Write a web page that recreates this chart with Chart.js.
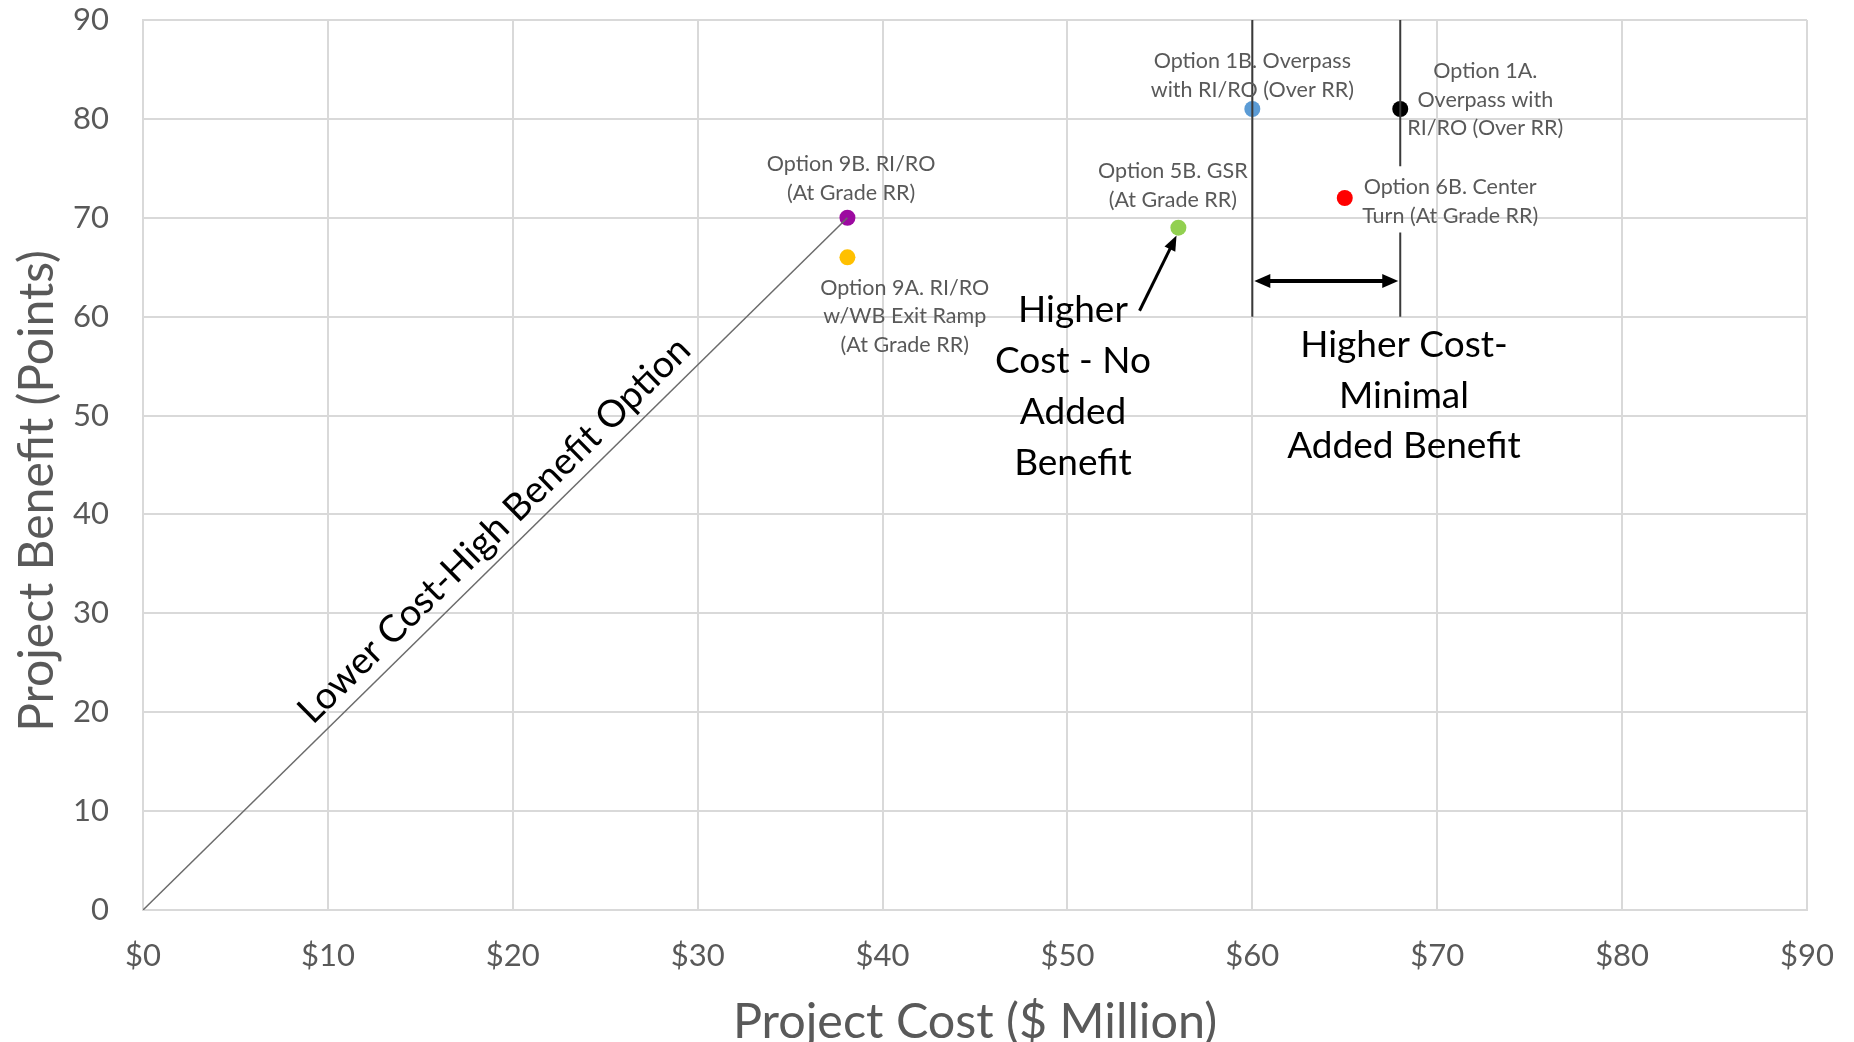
<!DOCTYPE html>
<html>
<head>
<meta charset="utf-8">
<script src="https://cdn.jsdelivr.net/npm/chart.js@4.4.0/dist/chart.umd.min.js"></script>
<style>
    html, body { margin: 0; padding: 0; background: #ffffff; }
</style>
</head>
<body>
<canvas id="costBenefitChart" width="1854" height="1042"></canvas>
<script>
// Datos
const optionLabels = [
    ['Option 9B. RI/RO', '(At Grade RR)'],
    ['Option 9A. RI/RO', 'w/WB Exit Ramp', '(At Grade RR)'],
    ['Option 5B. GSR', '(At Grade RR)'],
    ['Option 1B. Overpass', 'with RI/RO (Over RR)'],
    ['Option 1A.', 'Overpass with', 'RI/RO (Over RR)'],
    ['Option 6B. Center', 'Turn (At Grade RR)']
];
const projectCost = [38.1, 38.1, 56, 60, 68, 65];
const projectBenefit = [70, 66, 69, 81, 81, 72];
const pointColors = ['#9c0aa0', '#ffc000', '#92d050', '#5b9bd5', '#000000', '#ff0000'];
const costTicks = [0, 10, 20, 30, 40, 50, 60, 70, 80, 90];
const benefitTicks = [0, 10, 20, 30, 40, 50, 60, 70, 80, 90];

// Lineas de referencia (en unidades del grafico)
const thresholdLines = [
    [{ x: 60, y: 90 }, { x: 60, y: 60 }],
    [{ x: 68, y: 90 }, { x: 68, y: 75.2 }],
    [{ x: 68, y: 68.5 }, { x: 68, y: 60 }]
];
const diagonalLine = [{ x: 0, y: 0 }, { x: projectCost[0], y: projectBenefit[0] }];

// Posicion de las etiquetas (centro de la primera linea, en unidades)
const labelAnchors = [
    { x: 38.3, y: 75.4 },
    { x: 41.2, y: 62.9 },
    { x: 55.7, y: 74.7 },
    { x: 60.0, y: 85.8 },
    { x: 72.6, y: 84.8 },
    { x: 70.7, y: 73.1 }
];

const FONT = 'Lato, "Open Sans", sans-serif';
const GREY = '#595959';

function arrowHead(ctx, x, y, angle, len, half) {
    ctx.save();
    ctx.translate(x, y);
    ctx.rotate(angle);
    ctx.beginPath();
    ctx.moveTo(0, 0);
    ctx.lineTo(-len, -half);
    ctx.lineTo(-len, half);
    ctx.closePath();
    ctx.fill();
    ctx.restore();
}

function drawLines(ctx, lines, cx, cy, size, color, gap) {
    ctx.font = size + 'px ' + FONT;
    ctx.fillStyle = color;
    ctx.textAlign = 'center';
    ctx.textBaseline = 'middle';
    lines.forEach((t, i) => ctx.fillText(t, cx, cy + i * gap));
}

const annotationsPlugin = {
    id: 'annotations',
    afterDatasetsDraw(chart) {
        const ctx = chart.ctx;
        const xs = chart.scales.x;
        const ys = chart.scales.y;
        const px = v => xs.getPixelForValue(v);
        const py = v => ys.getPixelForValue(v);

        ctx.save();

        // Etiquetas de cada opcion
        optionLabels.forEach((lines, i) => {
            drawLines(ctx, lines, px(labelAnchors[i].x), py(labelAnchors[i].y), 21.5, GREY, 28.5);
        });

        // Texto diagonal
        const angle = Math.atan2(py(diagonalLine[1].y) - py(0), px(diagonalLine[1].x) - px(0));
        ctx.save();
        ctx.translate(px(19.0), py(38.4));
        ctx.rotate(angle);
        drawLines(ctx, ['Lower Cost-High Benefit Option'], 0, 0, 37.5, '#000000', 0);
        ctx.restore();

        // Textos grandes
        drawLines(ctx, ['Higher', 'Cost - No', 'Added', 'Benefit'], px(50.3), py(60.7), 37, '#000000', 51);
        drawLines(ctx, ['Higher Cost-', 'Minimal', 'Added Benefit'], px(68.2), py(57.1), 37, '#000000', 50.5);

        // Flecha doble
        ctx.strokeStyle = '#000000';
        ctx.fillStyle = '#000000';
        ctx.lineWidth = 4;
        const ay = py(63.6);
        const ax1 = px(60) + 2, ax2 = px(68) - 2;
        ctx.beginPath();
        ctx.moveTo(ax1 + 10, ay);
        ctx.lineTo(ax2 - 10, ay);
        ctx.stroke();
        arrowHead(ctx, ax2, ay, 0, 16, 7);
        arrowHead(ctx, ax1, ay, Math.PI, 16, 7);

        // Flecha hacia la opcion 5B
        const sx = px(53.9), sy = py(60.6);
        const ex = px(55.9), ey = py(68.2);
        const a = Math.atan2(ey - sy, ex - sx);
        ctx.lineWidth = 3;
        ctx.beginPath();
        ctx.moveTo(sx, sy);
        ctx.lineTo(ex - 12 * Math.cos(a), ey - 12 * Math.sin(a));
        ctx.stroke();
        arrowHead(ctx, ex, ey, a, 15, 6);

        // Titulo eje Y
        ctx.save();
        ctx.translate(38, 491);
        ctx.rotate(-Math.PI / 2);
        drawLines(ctx, ['Project Benefit (Points)'], 0, 0, 48, GREY, 0);
        ctx.restore();

        ctx.restore();
    }
};

const lineDatasets = thresholdLines.map(seg => ({
    type: 'line',
    data: seg,
    borderColor: '#3a3a3a',
    borderWidth: 2,
    pointRadius: 0,
    fill: false
}));

new Chart(document.getElementById('costBenefitChart').getContext('2d'), {
    type: 'scatter',
    data: {
        datasets: [
            {
                type: 'line',
                data: diagonalLine,
                borderColor: '#6b6b6b',
                borderWidth: 1.5,
                pointRadius: 0,
                fill: false
            },
            ...lineDatasets,
            {
                label: 'Opciones',
                data: projectCost.map((c, i) => ({ x: c, y: projectBenefit[i] })),
                pointRadius: 8,
                pointBackgroundColor: pointColors,
                pointBorderColor: pointColors,
                pointBorderWidth: 0
            }
        ]
    },
    options: {
        responsive: false,
        animation: false,
        layout: { padding: { top: 20, right: 47, left: 0, bottom: 0 } },
        plugins: {
            legend: { display: false },
            tooltip: { enabled: false }
        },
        scales: {
            x: {
                type: 'linear',
                min: 0,
                max: 90,
                afterBuildTicks: scale => { scale.ticks = costTicks.map(v => ({ value: v })); },
                afterFit: scale => {
                    scale.height = 132;
                    scale.paddingLeft = 0;
                    scale.paddingRight = 0;
                },
                ticks: {
                    color: GREY,
                    font: { family: FONT, size: 31 },
                    padding: 27,
                    maxRotation: 0,
                    callback: v => '$' + v
                },
                grid: { color: '#d9d9d9', lineWidth: 2, drawTicks: false },
                border: { color: '#d9d9d9', width: 2 },
                title: {
                    display: true,
                    text: 'Project Cost ($ Million)',
                    color: GREY,
                    font: { family: FONT, size: 48.5, lineHeight: 0.8 },
                    padding: { top: 0, bottom: 0 }
                }
            },
            y: {
                type: 'linear',
                min: 0,
                max: 90,
                afterBuildTicks: scale => { scale.ticks = benefitTicks.map(v => ({ value: v })); },
                afterFit: scale => {
                    scale.width = 143;
                    scale.paddingTop = 0;
                    scale.paddingBottom = 0;
                },
                ticks: {
                    color: GREY,
                    font: { family: FONT, size: 31 },
                    padding: 34
                },
                grid: { color: '#d9d9d9', lineWidth: 2, drawTicks: false },
                border: { color: '#d9d9d9', width: 2 }
            }
        }
    },
    plugins: [annotationsPlugin]
});
</script>
</body>
</html>
